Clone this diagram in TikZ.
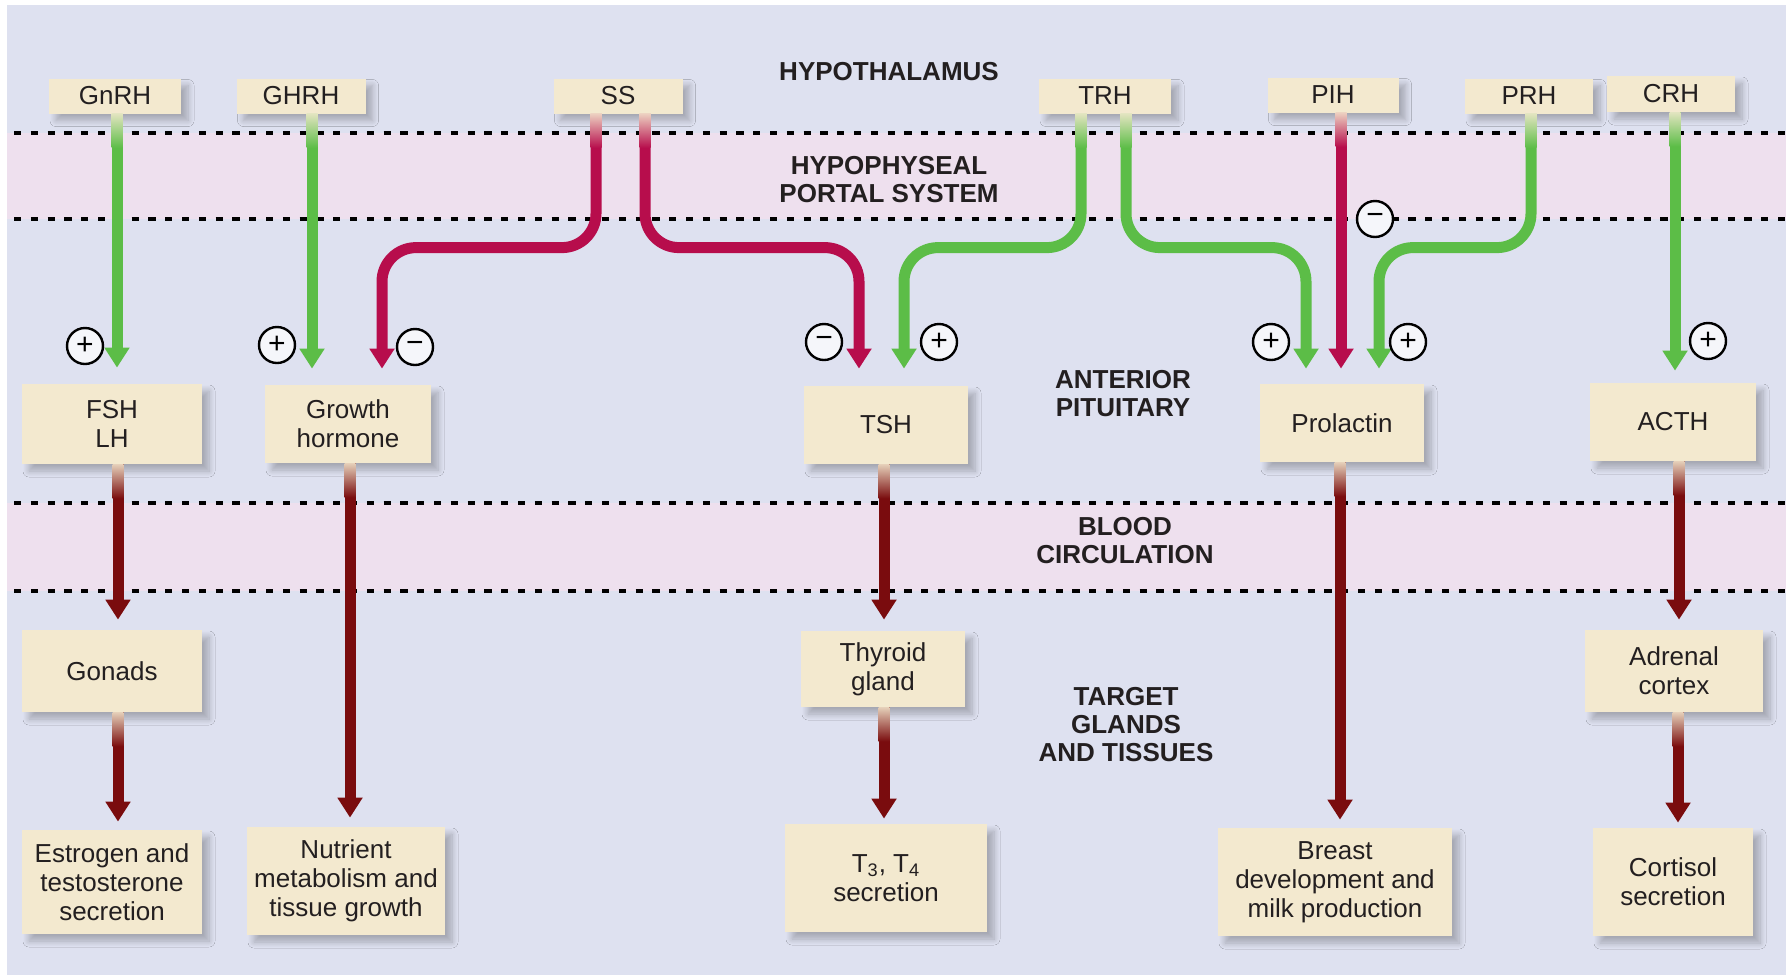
\documentclass[tikz,border=0pt]{standalone}
\usepackage{fontspec}
\setmainfont{Liberation Sans}
\usetikzlibrary{arrows.meta}
\usetikzlibrary{calc}
\usetikzlibrary{shadows.blur}

\definecolor{bgfill}{HTML}{DEE1F0}
\definecolor{bandfill}{HTML}{EEE0EE}
\definecolor{boxfill}{HTML}{F3E9CF}
\definecolor{grn}{HTML}{5CBD47}
\definecolor{mag}{HTML}{B70D4C}
\definecolor{drk}{HTML}{7A0C0E}
\definecolor{txt}{HTML}{231F20}

\begin{document}
\begin{tikzpicture}[x=0.5pt,y=0.5pt,yscale=-1,xscale=1,
  gland/.style={rectangle, fill=boxfill, text=txt, align=center, inner sep=0pt,
    font=\fontsize{13}{14.5}\selectfont,
    blur shadow={shadow xshift=3.5pt, shadow yshift=-3.5pt, shadow blur radius=3pt, shadow blur steps=8, shadow opacity=25}},
  zone/.style={text=txt, align=center, font=\bfseries\fontsize{13}{14}\selectfont},
  sign/.style={circle, draw=black, line width=1.2pt, fill=white!70!bgfill, inner sep=0pt,
    minimum size=18pt, font=\fontsize{15}{15}\selectfont},
  hormone/.style={line width=5.5pt, -{Triangle[width=12pt,length=10pt]}, rounded corners=17pt},
  border/.style={dash pattern=on 3.6pt off 4.8pt, line width=2pt}]
\useasboundingbox (0,0) rectangle (1786,975);

%Shape: Background
\fill[white] (0,0) rectangle (1786,975);
\fill[bgfill] (7,5) rectangle (1786,975);
%Shape: Bands
\fill[bandfill] (7,133) rectangle (1786,219);
\fill[bandfill] (7,503) rectangle (1786,591);
\draw[border] (14,133) -- (1786,133);
\draw[border] (14,219) -- (1786,219);
\draw[border] (14,503) -- (1786,503);
\draw[border] (14,591) -- (1786,591);

% Text Node
\node[zone] (hypo) at (889,72) {HYPOTHALAMUS};
\node[zone] (portal) at (889,180) {HYPOPHYSEAL\\PORTAL SYSTEM};
\node[zone] (ant) at (1123,394) {ANTERIOR\\PITUITARY};
\node[zone] (blood) at (1125,541) {BLOOD\\CIRCULATION};
\node[zone] (target) at (1126,725) {TARGET\\GLANDS\\AND TISSUES};

%Shape: Hypothalamus boxes
\node[gland, minimum width=66pt, minimum height=17.5pt] (gnrh) at (115,96) {GnRH};
\node[gland, minimum width=64.5pt, minimum height=17.5pt] (ghrh) at (301,96) {GHRH};
\node[gland, minimum width=64.5pt, minimum height=17.5pt] (ss) at (618,96) {SS};
\node[gland, minimum width=66pt, minimum height=17.5pt] (trh) at (1105,96) {TRH};
\node[gland, minimum width=65.5pt, minimum height=17.5pt] (pih) at (1333,95) {PIH};
\node[gland, minimum width=64pt, minimum height=17.5pt] (prh) at (1529,96) {PRH};
\node[gland, minimum width=64pt, minimum height=18pt] (crh) at (1671,94) {CRH};

%Shape: Anterior pituitary boxes
\node[gland, minimum width=90pt, minimum height=40pt] (fsh) at (112,424) {FSH\\LH};
\node[gland, minimum width=83pt, minimum height=39pt] (gh) at (348,424) {Growth\\hormone};
\node[gland, minimum width=82pt, minimum height=39pt] (tsh) at (886,425) {TSH};
\node[gland, minimum width=82pt, minimum height=39pt] (prl) at (1342,423) {Prolactin};
\node[gland, minimum width=83pt, minimum height=39pt] (acth) at (1673,422) {ACTH};

%Shape: Target glands
\node[gland, minimum width=90pt, minimum height=41pt] (gonads) at (112,671) {Gonads};
\node[gland, minimum width=82pt, minimum height=38pt] (thyroid) at (883,669) {Thyroid\\gland};
\node[gland, minimum width=89pt, minimum height=41pt] (adrenal) at (1674,671) {Adrenal\\cortex};

%Shape: Effects
\node[gland, minimum width=90pt, minimum height=52pt] (estrogen) at (112,882) {Estrogen and\\testosterone\\secretion};
\node[gland, minimum width=99pt, minimum height=54pt] (nutrient) at (346,881) {Nutrient\\metabolism and\\tissue growth};
\node[gland, minimum width=101pt, minimum height=54pt] (t3) at (886,878) {T\textsubscript{3}, T\textsubscript{4}\\secretion};
\node[gland, minimum width=117pt, minimum height=54pt] (breast) at (1335,882) {Breast\\development and\\milk production};
\node[gland, minimum width=80pt, minimum height=54pt] (cortisol) at (1673,882) {Cortisol\\secretion};

%Curve Lines: releasing and inhibiting hormones
\draw[hormone, grn] ($(gnrh.south)+(2,0)$) -- ($(gnrh.south |- fsh.north)+(2,-16)$);
\draw[hormone, grn] ($(ghrh.south)+(11,0)$) -- ($(ghrh.south |- gh.north)+(11,-16)$);
\draw[hormone, mag] ($(ss.south)+(-22,0)$) |- ($(gh.north)+(34,-137)$) -- ($(gh.north)+(34,-16)$);
\draw[hormone, mag] ($(ss.south)+(27,0)$) |- ($(tsh.north)+(-27,-138)$) -- ($(tsh.north)+(-27,-17)$);
\draw[hormone, grn] ($(trh.south)+(-24,0)$) |- ($(tsh.north)+(18,-138)$) -- ($(tsh.north)+(18,-17)$);
\draw[hormone, grn] ($(trh.south)+(21,0)$) |- ($(prl.north)+(-36,-136)$) -- ($(prl.north)+(-36,-15)$);
\draw[hormone, mag] ($(pih.south)+(8,0)$) -- ($(pih.south |- prl.north)+(8,-15)$);
\draw[hormone, grn] ($(prh.south)+(2,0)$) |- ($(prl.north)+(37,-136)$) -- ($(prl.north)+(37,-15)$);
\draw[hormone, grn] ($(crh.south)+(4,0)$) -- ($(crh.south |- acth.north)+(4,-12)$);

%Curve Lines: pituitary and target hormones
\draw[hormone, drk] ($(fsh.south)+(6,0)$) -- ($(fsh.south |- gonads.north)+(6,-10)$);
\draw[hormone, drk] ($(gonads.south)+(6,0)$) -- ($(gonads.south |- estrogen.north)+(6,-8)$);
\draw[hormone, drk] ($(gh.south)+(2,0)$) -- ($(gh.south |- nutrient.north)+(2,-9)$);
\draw[hormone, drk] ($(tsh.south)+(-2,0)$) -- ($(tsh.south |- thyroid.north)+(-2,-11)$);
\draw[hormone, drk] ($(thyroid.south)+(1,0)$) -- ($(thyroid.south |- t3.north)+(1,-5)$);
\draw[hormone, drk] ($(prl.south)+(-2,0)$) -- ($(prl.south |- breast.north)+(-2,-8)$);
\draw[hormone, drk] ($(acth.south)+(6,0)$) -- ($(acth.south |- adrenal.north)+(6,-10)$);
\draw[hormone, drk] ($(adrenal.south)+(4,0)$) -- ($(adrenal.south |- cortisol.north)+(4,-5)$);

% fade where each arrow leaves its box
\foreach \n/\dx/\c in {gnrh/2/grn, ghrh/11/grn, ss/-22/mag, ss/27/mag, trh/-24/grn, trh/21/grn,
    pih/8/mag, prh/2/grn, crh/4/grn, fsh/6/drk, gonads/6/drk, gh/2/drk, tsh/-2/drk,
    thyroid/1/drk, prl/-2/drk, acth/6/drk, adrenal/4/drk}
  \shade[top color=\c!12!boxfill, bottom color=\c] ($(\n.south)+(\dx-5.5,0)$) rectangle ($(\n.south)+(\dx+5.5,34)$);

% Text Node: signs
\node[sign] (plusgn) at (85,346) {+};
\node[sign] (plusgh) at (277,345) {+};
\node[sign] (minusgh) at (415,347) {−};
\node[sign] (minustsh) at (824,342) {−};
\node[sign] (plustsh) at (939,342) {+};
\node[sign] (plusprl) at (1271,342) {+};
\node[sign] (plusprh) at (1408,342) {+};
\node[sign] (plusacth) at (1708,341) {+};
\node[sign] (minuspih) at (1375,219) {−};

\end{tikzpicture}
\end{document}
